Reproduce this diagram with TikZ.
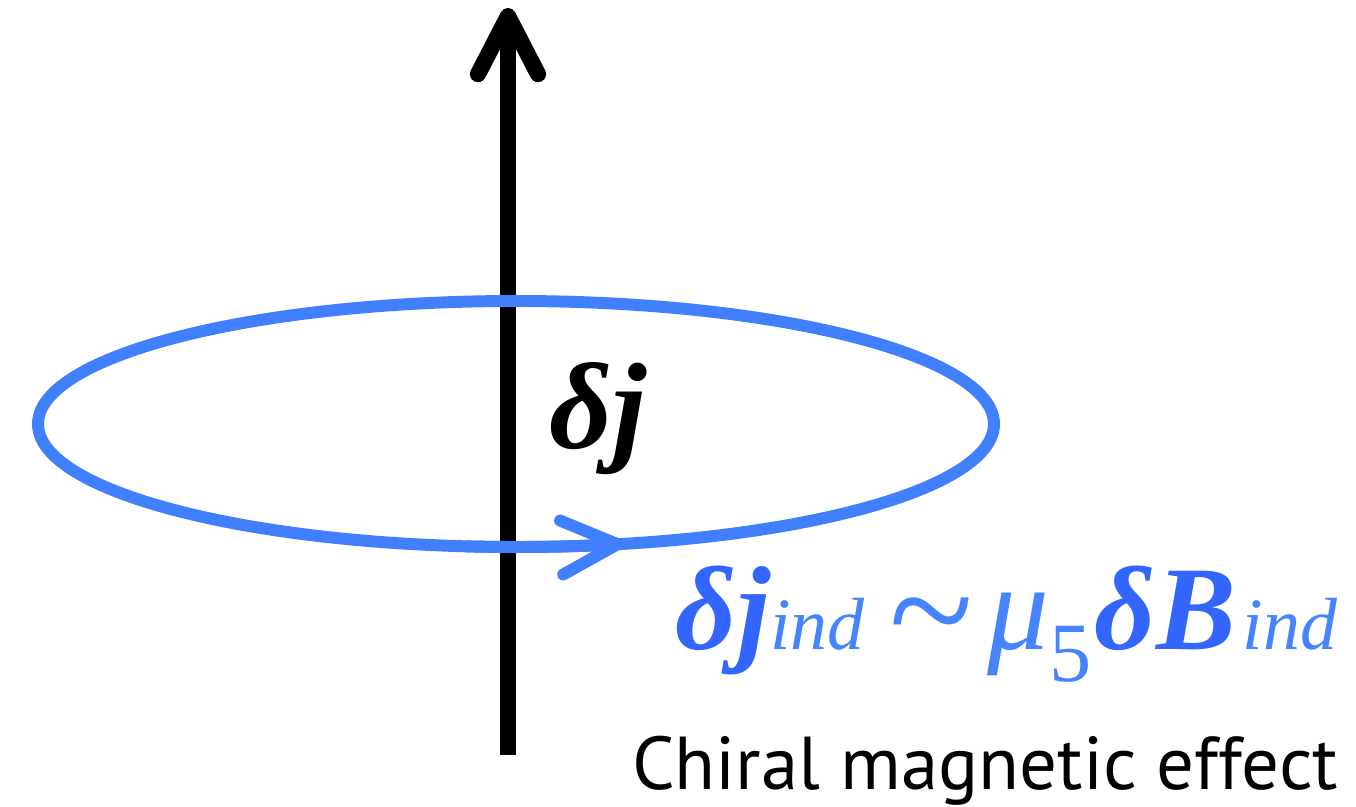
\documentclass[tikz,border=0pt]{standalone}
\usepackage{fontspec}
\newfontfamily\lawfont{Liberation Serif}
\newfontfamily\cmefont{PT Sans}
\usetikzlibrary{arrows.meta}
\definecolor{ringblue}{RGB}{64,128,255}
\definecolor{lawblue}{RGB}{51,102,255}
\definecolor{lawlight}{RGB}{70,132,255}
\tikzset{
  barb/.style={-{Straight Barb[length=5.8mm,width=6mm,line cap=round,line join=round]}},
  ringbarb/.style={-{Straight Barb[length=5.6mm,width=5.4mm,line cap=round,line join=round]}},
  axisline/.style={black,line width=4.6pt,barb},
  ringline/.style={ringblue,line width=3.4pt},
}
\newcommand{\bfit}[1]{{\bfseries\itshape #1}}
\newcommand{\sub}[1]{{\color{lawlight}\itshape\fontsize{21}{24}\selectfont #1}}

\begin{document}
\begin{tikzpicture}[x=0.01cm,y=-0.01cm]
	\tikzset{every node/.style={inner sep=0pt}}
	\useasboundingbox (0,0) rectangle (1356,807);
	% axis with the current
	\coordinate (axisbot) at (508,755);
	\coordinate (axistop) at (508,8);
	\draw [axisline] (axisbot) -- (axistop);
	% induced loop
	\coordinate (ringc) at (516,424);
	\draw [ringline] (ringc) ellipse [x radius=478, y radius=123];
	\draw [ringline,ringbarb] ([shift={(96:478 and 123)}]ringc)
		arc [start angle=96, end angle=77, x radius=478, y radius=123];
	% labels
	\node [anchor=base west, font=\lawfont\fontsize{35}{38}\selectfont] (dj) at (549,449) {\bfit{δj}};
	\node [anchor=base east, text=lawblue, font=\lawfont\fontsize{34}{38}\selectfont] (law) at (1338,650)
		{\bfit{δj}\sub{ind}\hspace{7pt}\raisebox{-4pt}{\color{lawlight}\scalebox{1.3}[1.35]{\textasciitilde}}\hspace{4pt}{\color{lawlight}\itshape\fontsize{35}{38}\selectfont μ}\raisebox{-9pt}{\color{lawlight}\fontsize{24}{26}\selectfont 5}\hspace{1pt}\bfit{δB}\hspace{2pt}\sub{ind}};
	\node [anchor=base east, font=\cmefont\fontsize{21.3}{26}\selectfont] (cme) at (1339,790) {Chiral magnetic effect};
\end{tikzpicture}
\end{document}
